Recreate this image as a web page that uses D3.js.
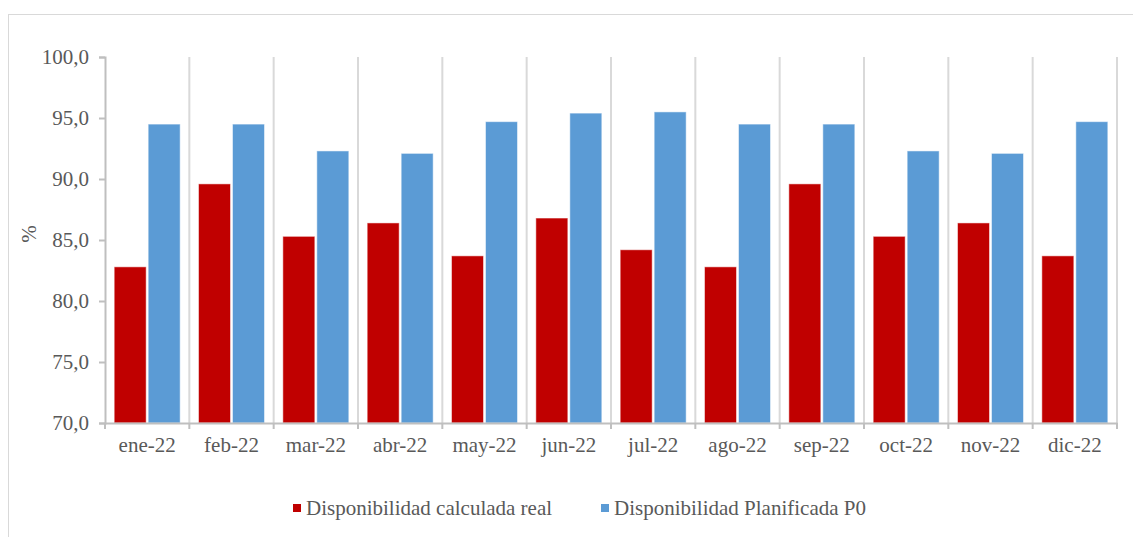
<!DOCTYPE html>
<html>
<head>
<meta charset="utf-8">
<script src="https://cdn.jsdelivr.net/npm/d3@7"></script>
<style>
  html, body { margin: 0; padding: 0; background: #fff; }
  svg { display: block; }
  text { font-family: "Liberation Serif", "Times New Roman", serif; fill: #595959; }
</style>
</head>
<body>
<svg id="chart" width="1133" height="537"></svg>
<script>
const months = ["ene-22", "feb-22", "mar-22", "abr-22", "may-22", "jun-22",
                "jul-22", "ago-22", "sep-22", "oct-22", "nov-22", "dic-22"];
const realValues = [82.8, 89.6, 85.3, 86.4, 83.7, 86.8, 84.2, 82.8, 89.6, 85.3, 86.4, 83.7];
const plannedValues = [94.5, 94.5, 92.3, 92.1, 94.7, 95.4, 95.5, 94.5, 94.5, 92.3, 92.1, 94.7];
const seriesNames = ["Disponibilidad calculada real", "Disponibilidad Planificada P0"];
const seriesColors = ["#C00000", "#5B9BD5"];
const yTicks = [70, 75, 80, 85, 90, 95, 100];

const rows = months.map((m, i) => ({ month: m, values: [realValues[i], plannedValues[i]] }));

const svg = d3.select("#chart");
const margin = { left: 105, right: 16, top: 57, bottom: 114 };
const W = 1133, H = 537;
const plotW = W - margin.left - margin.right;
const plotH = H - margin.top - margin.bottom;

// chart frame
svg.append("rect")
  .attr("x", 8.5).attr("y", 14.5)
  .attr("width", 1140).attr("height", 540)
  .attr("fill", "none").attr("stroke", "#d9d9d9").attr("stroke-width", 1);

const g = svg.append("g").attr("transform", `translate(${margin.left},${margin.top})`);

const x0 = d3.scaleBand().domain(months).range([0, plotW]).paddingInner(0).paddingOuter(0);
const x1 = d3.scaleBand().domain([0, 1]).range([0, x0.bandwidth()])
  .paddingInner(0.0588).paddingOuter(0.27);
const y = d3.scaleLinear().domain([70, 100]).range([plotH, 0]);

// vertical separators between categories
g.append("g").selectAll("line")
  .data(months.slice(1).concat(["__end"]))
  .join("line")
  .attr("x1", (d, i) => x0.step() * (i + 1))
  .attr("x2", (d, i) => x0.step() * (i + 1))
  .attr("y1", 0).attr("y2", plotH)
  .attr("stroke", "#d9d9d9").attr("stroke-width", 2);

// bars
g.append("g").selectAll("g")
  .data(rows)
  .join("g")
  .attr("transform", d => `translate(${x0(d.month)},0)`)
  .selectAll("rect")
  .data(d => d.values.map((v, k) => ({ k, v })))
  .join("rect")
  .attr("x", d => x1(d.k))
  .attr("width", x1.bandwidth())
  .attr("y", d => y(d.v))
  .attr("height", d => y(70) - y(d.v))
  .attr("fill", d => seriesColors[d.k])
  .attr("stroke", "#ffffff").attr("stroke-opacity", 0.5).attr("stroke-width", 1);

// y axis
const yAxis = g.append("g")
  .call(d3.axisLeft(y).tickValues(yTicks).tickSize(6).tickPadding(10)
    .tickFormat(d => d3.format(".1f")(d).replace(".", ",")));
yAxis.select(".domain").attr("stroke", "#bfbfbf").attr("stroke-width", 2);
yAxis.selectAll(".tick line").attr("stroke", "#bfbfbf").attr("stroke-width", 2);
yAxis.selectAll(".tick text")
  .style("font-size", "21px").attr("fill", "#595959");

// x axis
const xAxis = g.append("g").attr("transform", `translate(0,${plotH})`)
  .call(d3.axisBottom(x0).tickSize(0).tickPadding(14));
xAxis.select(".domain").attr("stroke", "#bfbfbf").attr("stroke-width", 2);
xAxis.selectAll(".tick text").style("font-size", "21px").attr("fill", "#595959");
xAxis.append("g").selectAll("line")
  .data(d3.range(months.length + 1))
  .join("line")
  .attr("x1", i => x0.step() * i).attr("x2", i => x0.step() * i)
  .attr("y1", 0).attr("y2", 6)
  .attr("stroke", "#bfbfbf").attr("stroke-width", 2);

// y title
svg.append("text")
  .attr("transform", `translate(36,${margin.top + plotH / 2 - 6}) rotate(-90)`)
  .attr("text-anchor", "middle")
  .style("font-size", "21px")
  .text("%");

// legend
const legendItems = [{ sx: 293, tx: 306 }, { sx: 601, tx: 614 }];
const legend = svg.append("g");
legendItems.forEach((p, k) => {
  legend.append("rect")
    .attr("x", p.sx).attr("y", 504).attr("width", 8).attr("height", 8)
    .attr("fill", seriesColors[k]);
  legend.append("text")
    .attr("x", p.tx).attr("y", 515)
    .style("font-size", "21px")
    .text(seriesNames[k]);
});
</script>
</body>
</html>
